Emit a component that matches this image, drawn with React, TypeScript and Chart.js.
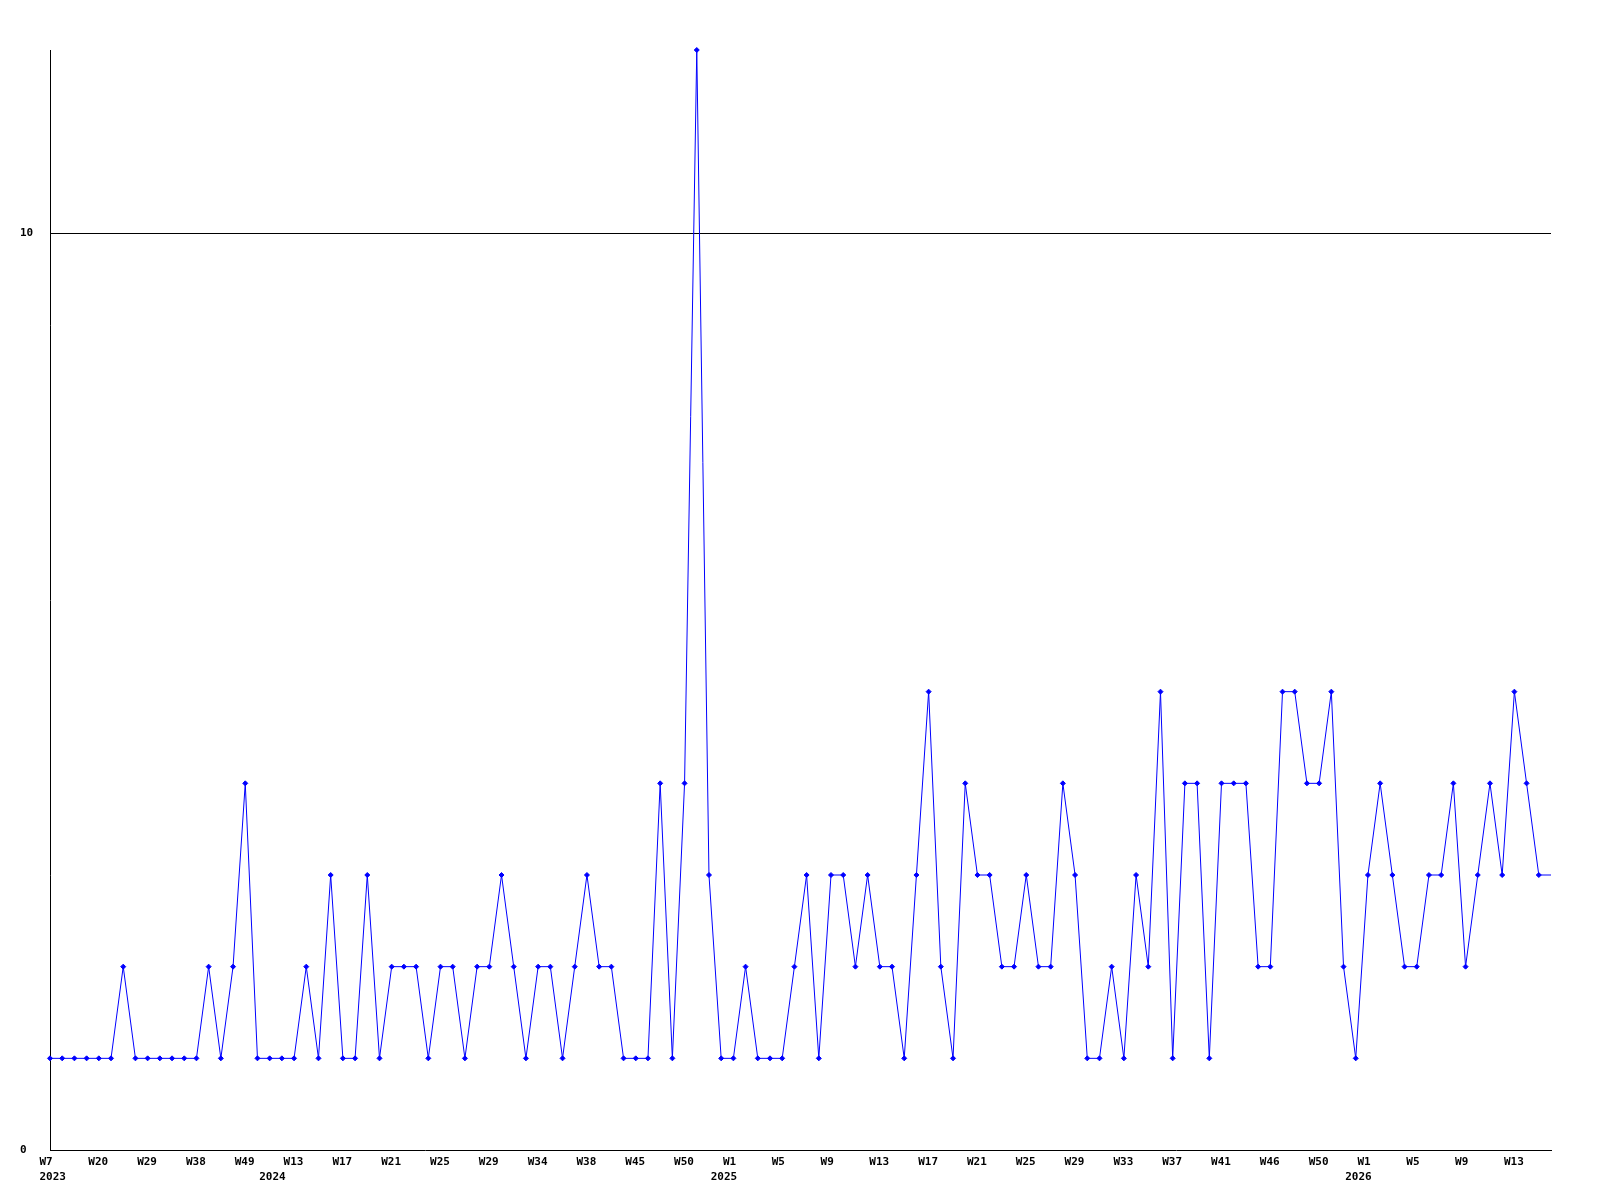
import { useEffect, useRef } from 'react';
import { Chart, registerables } from 'chart.js';

Chart.register(...registerables);

// ISO-style week numbers of the sampled points, by year
const weeks2023 = [7, 9, 13, 17, 20, 22, 25, 27, 29, 31, 33, 36, 38, 41, 43, 46, 49, 51];
const weeks2024 = [2, 8, 13, 14, 15, 16, 17, 18, 19, 20, 21, 22, 23, 24, 25, 26, 27, 28, 29, 30, 31, 33, 34, 35, 36, 37, 38, 40, 42, 43, 45, 47, 48, 49, 50, 51, 52, 53];
const weeks2025 = [1, 2, 3, 4, 5, 6, 7, 8, 9, 10, 11, 12, 13, 14, 15, 16, 17, 18, 19, 20, 21, 22, 23, 24, 25, 26, 27, 28, 29, 30, 31, 32, 33, 34, 35, 36, 37, 38, 39, 40, 41, 42, 43, 44, 46, 47, 48, 49, 50, 51, 52, 53];
const weeks2026 = [1, 2, 3, 4, 5, 6, 7, 8, 9, 10, 11, 12, 13, 14, 15, 16];

const categories: string[] = [
  ...weeks2023.map((w) => `2023-W${w}`),
  ...weeks2024.map((w) => `2024-W${w}`),
  ...weeks2025.map((w) => `2025-W${w}`),
  ...weeks2026.map((w) => `2026-W${w}`),
];

const values = [
  1, 1, 1, 1, 1, 1, 2, 1, 1, 1, 1, 1, 1, 2, 1, 2, 4, 1, 1, 1, 1, 2, 1, 3, 1, 1, 3, 1, 2,
  2, 2, 1, 2, 2, 1, 2, 2, 3, 2, 1, 2, 2, 1, 2, 3, 2, 2, 1, 1, 1, 4, 1, 4, 12, 3, 1, 1, 2, 1, 1, 1, 2,
  3, 1, 3, 3, 2, 3, 2, 2, 1, 3, 5, 2, 1, 4, 3, 3, 2, 2, 3, 2, 2, 4, 3, 1, 1, 2, 1, 3, 2, 5, 1, 4, 4,
  1, 4, 4, 4, 2, 2, 5, 5, 4, 4, 5, 2, 1, 3, 4, 3, 2, 2, 3, 3, 4, 2, 3, 4, 3, 5, 4, 3, 3,
];

const yearStartIndex = [0, 18, 55, 107];
const yearLabels = ['2023', '2024', '2025', '2026'];
const weekLabelEvery = 4;
const yTicks = [0, 10];

const FONT = { family: 'DejaVu Sans Mono', size: 11, weight: 'bold' as const, lineHeight: 15 / 11 };

export default function App() {
  const ref = useRef<HTMLCanvasElement | null>(null);

  useEffect(() => {
    if (!ref.current) return;
    const chart = new Chart(ref.current, {
      type: 'line',
      data: {
        labels: categories,
        datasets: [
          {
            data: values,
            borderColor: '#0000ff',
            backgroundColor: '#0000ff',
            borderWidth: 1,
            tension: 0,
            fill: false,
            clip: false as any,
            pointStyle: 'rectRot',
            pointRadius: (ctx: any) => (ctx.dataIndex === values.length - 1 ? 0 : 2.5),
            pointBackgroundColor: '#0000ff',
            pointBorderColor: '#0000ff',
            pointBorderWidth: 1,
          },
        ],
      },
      options: {
        animation: false,
        responsive: false,
        maintainAspectRatio: false,
        layout: { padding: { left: 20, top: 50, right: 49, bottom: 0 } },
        plugins: { legend: { display: false }, tooltip: { enabled: false } },
        scales: {
          x: {
            type: 'category',
            offset: false,
            grid: { display: false, drawTicks: false },
            border: { display: true, color: '#000000', width: 1 },
            ticks: {
              autoSkip: false,
              maxRotation: 0,
              minRotation: 0,
              align: 'start',
              labelOffset: -10.5,
              padding: 5,
              color: '#000000',
              font: FONT,
              callback: (_v: any, index: number) => {
                const cat = categories[index] || '';
                const week = index % weekLabelEvery === 0 ? 'W' + cat.split('-W')[1] : '';
                const yi = yearStartIndex.indexOf(index);
                return yi >= 0 ? [week, yearLabels[yi]] : week;
              },
            },
            afterFit: (s: any) => {
              s.height = 50;
            },
          },
          y: {
            min: 0,
            max: 12,
            afterBuildTicks: (s: any) => {
              s.ticks = yTicks.map((v) => ({ value: v }));
            },
            grid: {
              drawTicks: false,
              lineWidth: 1,
              color: (ctx: any) => (ctx.tick && ctx.tick.value === 10 ? '#000000' : 'rgba(0,0,0,0)'),
            },
            border: { display: true, color: '#000000', width: 1 },
            ticks: { crossAlign: 'far', padding: 0, color: '#000000', font: FONT },
            afterFit: (s: any) => {
              s.width = 30;
            },
          },
        },
      },
    } as any);
    return () => chart.destroy();
  }, []);

  return (
    <div style={{ position: 'fixed', left: 0, top: 0, width: 1600, height: 1200, background: '#fff' }}>
      <canvas ref={ref} width={1600} height={1200} style={{ display: 'block', width: 1600, height: 1200 }} />
    </div>
  );
}
